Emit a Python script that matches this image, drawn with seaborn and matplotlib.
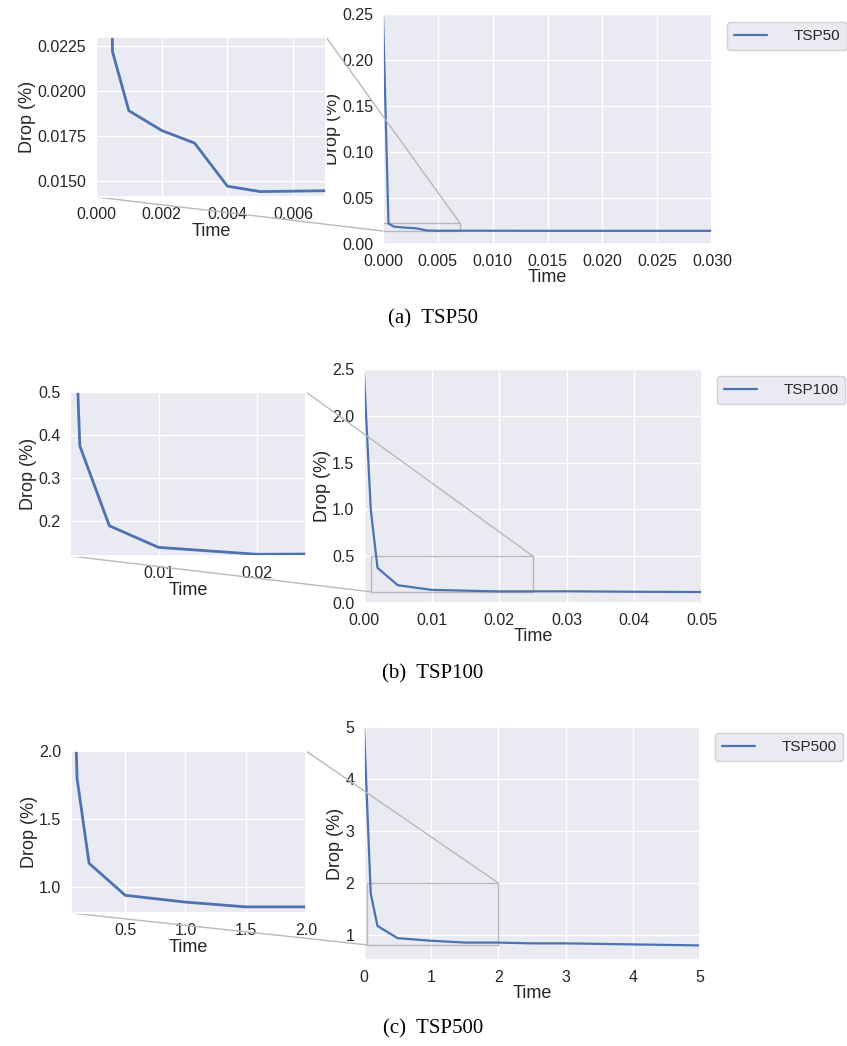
import matplotlib
matplotlib.use("Agg")
import matplotlib.pyplot as plt
import matplotlib.ticker as mticker
import numpy as np
import pandas as pd
import seaborn as sns
from mpl_toolkits.axes_grid1.inset_locator import mark_inset

# Values
tsp50_time = [0.0, 0.0005, 0.001, 0.002, 0.003, 0.004, 0.005, 0.007, 0.01, 0.02, 0.03]
tsp50_drop = [0.25, 0.0222, 0.0189, 0.0178, 0.0171, 0.0147, 0.0144, 0.01445, 0.0144, 0.0143, 0.0143]

tsp100_time = [0.0, 0.001, 0.002, 0.005, 0.01, 0.02, 0.03, 0.04, 0.05]
tsp100_drop = [2.45, 1.0, 0.375, 0.19, 0.14, 0.124, 0.125, 0.12, 0.117]

tsp500_time = [0.0, 0.1, 0.2, 0.5, 1.0, 1.5, 2.0, 2.5, 3.0, 4.0, 5.0]
tsp500_drop = [5.0, 1.8, 1.175, 0.94, 0.89, 0.855, 0.855, 0.84, 0.84, 0.82, 0.80]

labels = ["TSP50", "TSP100", "TSP500"]
captions = ["(a)  TSP50", "(b)  TSP100", "(c)  TSP500"]

W, H = 847, 1046
sns.set_theme(style="darkgrid", rc={
    "xtick.labelsize": 11.5, "ytick.labelsize": 11.5,
    "axes.labelsize": 13, "legend.fontsize": 11,
})
plt.rcParams["font.family"] = ["Liberation Sans", "DejaVu Sans"]

fig = plt.figure(figsize=(W / 100, H / 100), dpi=100)


def px_axes(left, top, right, bottom):
    return fig.add_axes([left / W, 1 - bottom / H, (right - left) / W, (bottom - top) / H])


line_color = sns.color_palette("deep")[0]

panels = [
    dict(time=tsp50_time, drop=tsp50_drop,
         main=(383, 14, 712, 244), inset=(96, 37, 326, 197),
         main_xlim=(0, 0.03), main_ylim=(0, 0.25),
         main_xticks=np.arange(0, 0.0301, 0.005), main_yticks=np.arange(0, 0.251, 0.05),
         main_xfmt="%.3f", main_yfmt="%.2f",
         in_xlim=(0, 0.007), in_ylim=(0.0141, 0.023),
         in_xticks=[0, 0.002, 0.004, 0.006], in_yticks=[0.015, 0.0175, 0.02, 0.0225],
         in_xfmt="%.3f", in_yfmt="%.4f",
         legend=(727, 22), caption_y=319),
    dict(time=tsp100_time, drop=tsp100_drop,
         main=(364, 369, 702, 603), inset=(70, 392, 306, 556),
         main_xlim=(0, 0.05), main_ylim=(0, 2.5),
         main_xticks=np.arange(0, 0.0501, 0.01), main_yticks=np.arange(0, 2.51, 0.5),
         main_xfmt="%.2f", main_yfmt="%.1f",
         in_xlim=(0.001, 0.025), in_ylim=(0.12, 0.5),
         in_xticks=[0.01, 0.02], in_yticks=[0.2, 0.3, 0.4, 0.5],
         in_xfmt="%.2f", in_yfmt="%.1f",
         legend=(717, 376), caption_y=674),
    dict(time=tsp500_time, drop=tsp500_drop,
         main=(364, 727, 700, 960), inset=(71, 751, 306, 913),
         main_xlim=(0, 5), main_ylim=(0.52, 5),
         main_xticks=[0, 1, 2, 3, 4, 5], main_yticks=[1, 2, 3, 4, 5],
         main_xfmt="%d", main_yfmt="%d",
         in_xlim=(0.05, 2.0), in_ylim=(0.81, 2.0),
         in_xticks=[0.5, 1.0, 1.5, 2.0], in_yticks=[1.0, 1.5, 2.0],
         in_xfmt="%.1f", in_yfmt="%.1f",
         legend=(715, 733), caption_y=1029),
]

for p, lab, cap in zip(panels, labels, captions):
    df = pd.DataFrame({"Time": p["time"], "Drop": p["drop"]})

    ax = px_axes(*p["main"])
    sns.lineplot(data=df, x="Time", y="Drop", ax=ax, color=line_color, lw=1.6, label=lab)
    ax.set_xlim(*p["main_xlim"])
    ax.set_ylim(*p["main_ylim"])
    ax.set_xticks(p["main_xticks"])
    ax.set_yticks(p["main_yticks"])
    ax.xaxis.set_major_formatter(mticker.FormatStrFormatter(p["main_xfmt"]))
    ax.yaxis.set_major_formatter(mticker.FormatStrFormatter(p["main_yfmt"]))
    ax.set_xlabel("Time", labelpad=0)
    ax.set_ylabel("Drop (%)", labelpad=1)
    ax.tick_params(pad=1)
    ax.legend(loc="upper left", bbox_to_anchor=(p["legend"][0] / W, 1 - p["legend"][1] / H),
              bbox_transform=fig.transFigure, borderaxespad=0, frameon=True,
              facecolor="#EAEAF2", edgecolor="0.82", framealpha=1,
              handlelength=2.2, handletextpad=1.7, borderpad=0.45)

    axi = px_axes(*p["inset"])
    sns.lineplot(data=df, x="Time", y="Drop", ax=axi, color=line_color, lw=2.0, legend=False)
    axi.set_xlim(*p["in_xlim"])
    axi.set_ylim(*p["in_ylim"])
    axi.set_xticks(p["in_xticks"])
    axi.set_yticks(p["in_yticks"])
    axi.xaxis.set_major_formatter(mticker.FormatStrFormatter(p["in_xfmt"]))
    axi.yaxis.set_major_formatter(mticker.FormatStrFormatter(p["in_yfmt"]))
    axi.set_xlabel("Time", labelpad=1)
    axi.set_ylabel("Drop (%)", labelpad=1)
    axi.tick_params(pad=1)

    mark_inset(ax, axi, loc1=1, loc2=3, fc="none", ec="0.72", lw=1.0)

    fig.text(433 / W, 1 - p["caption_y"] / H, cap, ha="center", va="center",
             fontsize=15, family=["Liberation Serif", "DejaVu Serif"], color="black")

fig.savefig("out.png", dpi=100)
